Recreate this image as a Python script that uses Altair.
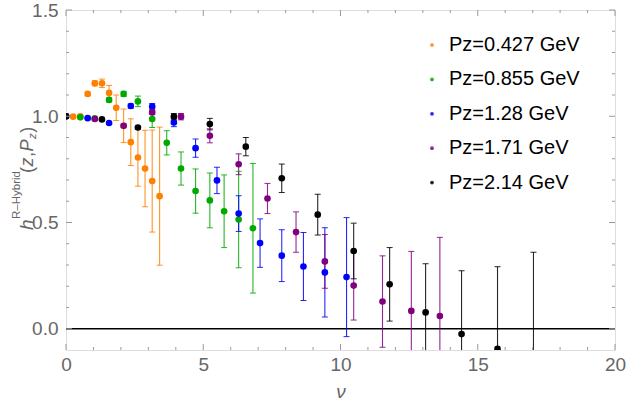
import altair as alt
import pandas as pd

series_names = ["Pz=0.427 GeV", "Pz=0.855 GeV", "Pz=1.28 GeV", "Pz=1.71 GeV", "Pz=2.14 GeV"]
series_colors = ["#FF8000", "#00A800", "#0000FF", "#800080", "#000000"]

nu_0427 = [0, 0.26, 0.52, 0.79, 1.05, 1.31, 1.57, 1.83, 2.10, 2.36, 2.62, 2.88, 3.14, 3.41]
h_0427 = [1.0, 0.998, 1.0, 1.105, 1.155, 1.155, 1.11, 1.04, 0.955, 0.878, 0.806, 0.754, 0.695, 0.624]
e_0427 = [0.0, 0.003, 0.005, 0.008, 0.012, 0.02, 0.035, 0.06, 0.079, 0.11, 0.135, 0.18, 0.24, 0.325]

nu_0855 = [0, 0.52, 1.05, 1.57, 2.10, 2.62, 3.14, 3.67, 4.19, 4.72, 5.24, 5.76, 6.29, 6.81]
h_0855 = [1.0, 0.995, 0.99, 1.077, 1.105, 1.07, 0.987, 0.875, 0.754, 0.648, 0.604, 0.553, 0.514, 0.473]
e_0855 = [0.0, 0.004, 0.005, 0.01, 0.012, 0.025, 0.04, 0.057, 0.078, 0.104, 0.129, 0.171, 0.227, 0.305]

nu_128 = [0, 0.79, 1.57, 2.36, 3.14, 3.93, 4.72, 5.50, 6.29, 7.07, 7.86, 8.65, 9.43, 10.22]
h_128 = [1.0, 0.991, 0.968, 1.048, 1.045, 0.971, 0.85, 0.698, 0.542, 0.403, 0.344, 0.293, 0.265, 0.243]
e_128 = [0.0, 0.004, 0.006, 0.01, 0.015, 0.02, 0.043, 0.062, 0.084, 0.114, 0.122, 0.16, 0.21, 0.28]

nu_171 = [0, 1.05, 2.10, 3.14, 4.19, 5.24, 6.29, 7.34, 8.38, 9.43, 10.48, 11.53, 12.58, 13.62]
h_171 = [1.0, 0.987, 0.955, 1.018, 0.998, 0.908, 0.774, 0.613, 0.455, 0.317, 0.203, 0.128, 0.084, 0.06]
e_171 = [0.0, 0.004, 0.008, 0.01, 0.015, 0.033, 0.049, 0.071, 0.095, 0.126, 0.162, 0.215, 0.28, 0.37]

nu_214 = [0, 1.31, 2.62, 3.93, 5.24, 6.55, 7.86, 9.17, 10.48, 11.79, 13.10, 14.41, 15.72, 17.03]
h_214 = [1.0, 0.985, 0.947, 0.998, 0.963, 0.857, 0.708, 0.537, 0.366, 0.209, 0.077, -0.025, -0.095, -0.13]
e_214 = [0.0, 0.004, 0.007, 0.015, 0.027, 0.043, 0.067, 0.096, 0.131, 0.173, 0.229, 0.298, 0.387, 0.49]

x_major = [0, 5, 10, 15, 20]
x_minor = [1, 2, 3, 4, 6, 7, 8, 9, 11, 12, 13, 14, 16, 17, 18, 19]
y_major = [0.0, 0.5, 1.0, 1.5]
y_minor = [0.1, 0.2, 0.3, 0.4, 0.6, 0.7, 0.8, 0.9, 1.1, 1.2, 1.3, 1.4]

rows = []
all_series = [(nu_0427, h_0427, e_0427), (nu_0855, h_0855, e_0855), (nu_128, h_128, e_128),
              (nu_171, h_171, e_171), (nu_214, h_214, e_214)]
for name, (nus, hs, es) in zip(series_names, all_series):
    for v, h, e in zip(nus, hs, es):
        rows.append({"series": name, "nu": v, "h": h, "lo": h - e, "hi": h + e})
df = pd.DataFrame(rows)

W, H = 549, 340
FONT = "Liberation Sans"
GRAY = "#666666"
FRAME = "#9a9a9a"

x_scale = alt.Scale(domain=[0, 20], nice=False, zero=False)
y_scale = alt.Scale(domain=[-0.1, 1.5], nice=False, zero=False)
color_scale = alt.Scale(domain=series_names, range=series_colors)

x_axis = alt.Axis(values=x_major, title="ν", titleFontStyle="italic", titleFont=FONT,
                  titleFontSize=19, titleFontWeight="normal", titleColor=GRAY, titlePadding=8,
                  labelFont=FONT, labelFontSize=19, labelColor=GRAY, labelPadding=5,
                  labelFlush=False, ticks=False, domain=False, grid=False, format="d")
y_axis = alt.Axis(values=y_major, title=None, labelFont=FONT, labelFontSize=19,
                  labelColor=GRAY, labelPadding=8, labelFlush=False, ticks=False, domain=False,
                  grid=False, format=".1f")
legend = alt.Legend(title=None, orient="none", legendX=356, legendY=25,
                    symbolType="circle", symbolSize=14, symbolStrokeWidth=0,
                    labelFont=FONT, labelFontSize=20, labelColor="black",
                    labelOffset=7, rowPadding=14.4, padding=0)


def X(field):
    return alt.X(field, scale=x_scale, axis=x_axis, title="ν")


def Y(field):
    return alt.Y(field, scale=y_scale, axis=y_axis, title=None)


def C():
    return alt.Color("series:N", scale=color_scale, legend=legend)


base = alt.Chart(df)

zero_line = alt.Chart(pd.DataFrame({"h": [0.0]})).mark_rule(color="black", strokeWidth=1.3).encode(
    y=Y("h:Q")
)

bars = base.mark_rule(strokeWidth=1.1, opacity=0.85, clip=True).encode(
    x=X("nu:Q"), y=Y("lo:Q"), y2="hi:Q", color=C(),
)
caps_lo = base.mark_tick(orient="horizontal", size=6, thickness=1, opacity=0.85, clip=True).encode(
    x=X("nu:Q"), y=Y("lo:Q"), color=C(),
)
caps_hi = base.mark_tick(orient="horizontal", size=6, thickness=1, opacity=0.85, clip=True).encode(
    x=X("nu:Q"), y=Y("hi:Q"), color=C(),
)
points = base.mark_circle(size=44, opacity=1, clip=True).encode(
    x=X("nu:Q"), y=Y("h:Q"), color=C(),
)


# inward frame ticks
def xticks(vals, length):
    d = pd.DataFrame({"nu": vals})
    bottom = alt.Chart(d).mark_rule(color=FRAME, strokeWidth=1).encode(
        x=X("nu:Q"), y=alt.value(H), y2=alt.value(H - length))
    top = alt.Chart(d).mark_rule(color=FRAME, strokeWidth=1).encode(
        x=X("nu:Q"), y=alt.value(0), y2=alt.value(length))
    return [bottom, top]


def yticks(vals, length):
    d = pd.DataFrame({"h": vals})
    left = alt.Chart(d).mark_rule(color=FRAME, strokeWidth=1).encode(
        y=Y("h:Q"), x=alt.value(0), x2=alt.value(length))
    right = alt.Chart(d).mark_rule(color=FRAME, strokeWidth=1).encode(
        y=Y("h:Q"), x=alt.value(W), x2=alt.value(W - length))
    return [left, right]


tick_layers = xticks(x_major, 6) + xticks(x_minor, 3) + yticks(y_major, 6) + yticks(y_minor, 3)


# y-axis title composed of pieces (rotated)
def piece(txt, xpos, ypos, size, italic=False):
    return alt.Chart(pd.DataFrame({"t": [txt]})).mark_text(
        angle=270, align="left", baseline="alphabetic", font=FONT, fontSize=size,
        fontStyle="italic" if italic else "normal", color=GRAY
    ).encode(x=alt.value(xpos), y=alt.value(ypos), text="t:N")


BX = 33 - 66  # baseline of main title text (relative to plot left)
y0 = 230 - 10
title_layers = []
pos = y0
widths = {"h": 0.556, "R\u2013Hybrid": 3.944, "(": 0.333, "z": 0.5, ",": 0.278, "P": 0.667, ")": 0.333}
for txt, size, italic, dx in [("h", 19, True, 0), ("R\u2013Hybrid", 11.5, False, -13),
                              ("(", 18, False, 0), ("z", 18, True, 0), (",", 18, False, 0),
                              ("P", 18, True, 0), ("z", 11.5, True, 3), (")", 18, False, 0)]:
    title_layers.append(piece(txt, BX + dx, pos, size, italic))
    pos -= widths[txt] * size + 0.5

chart = alt.layer(zero_line, bars, caps_lo, caps_hi, points, *tick_layers, *title_layers).properties(
    width=W, height=H,
    autosize=alt.AutoSizeParams(type="none"),
    padding={"left": 66, "top": 10, "right": 11, "bottom": 50},
).configure_view(stroke=FRAME, strokeWidth=1).configure(background="white")

chart.save("out.html", embed_options={"renderer": "svg", "actions": False})
